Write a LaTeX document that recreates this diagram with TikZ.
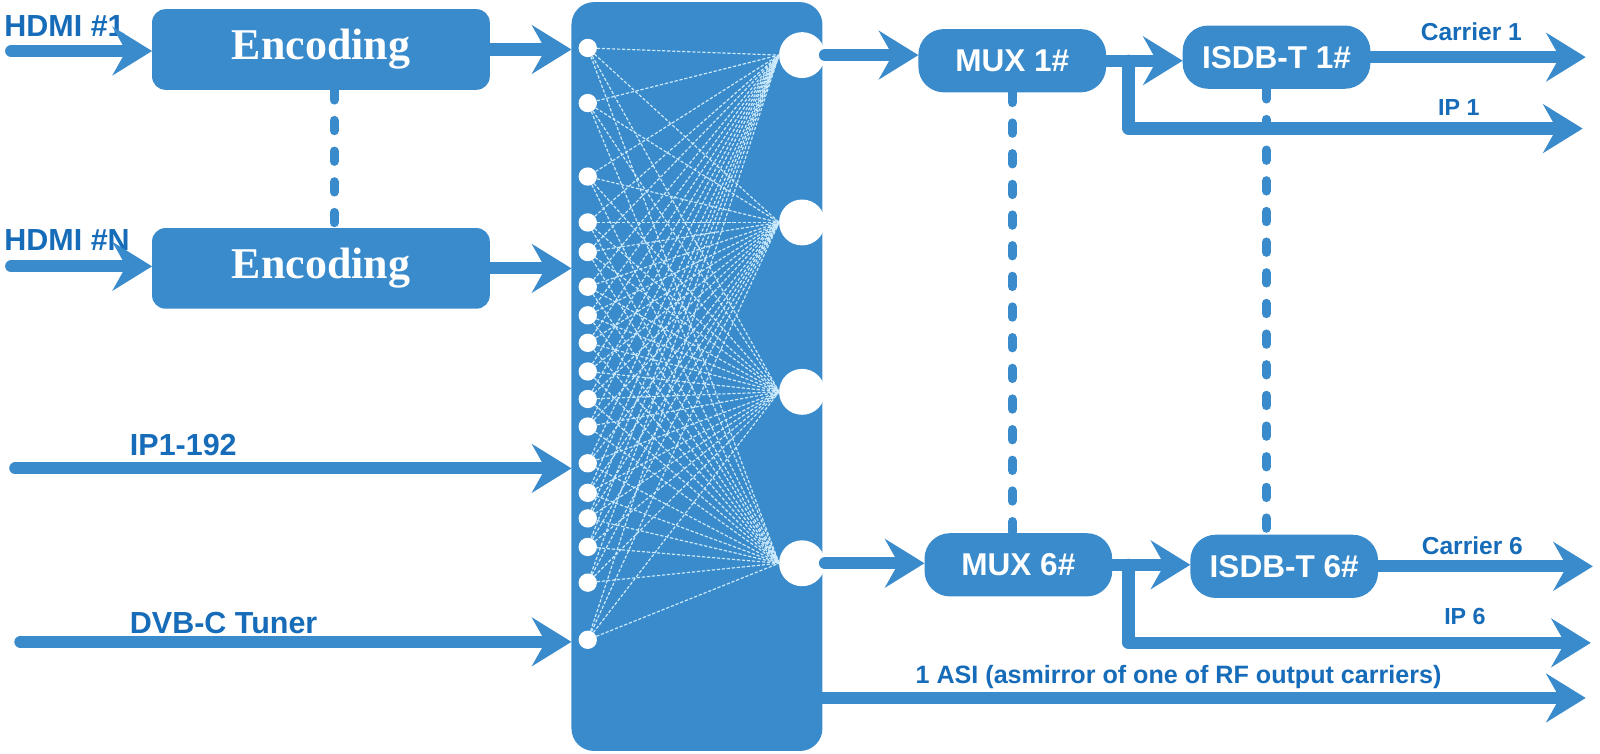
\documentclass[tikz,border=0pt]{standalone}
\usepackage{fontspec}
\setmainfont{Liberation Serif}
\setsansfont{Liberation Sans}
\usetikzlibrary{arrows.meta,calc}
\definecolor{boxblue}{RGB}{58,139,204}
\definecolor{textblue}{RGB}{22,108,184}
\definecolor{meshblue}{RGB}{205,235,252}

\begin{document}
\begin{tikzpicture}
    [   x=0.02cm, y=-0.02cm,
        box/.style={fill=boxblue,inner sep=0pt,outer sep=0pt,rounded corners=#1},
        enc/.style={box=0.26cm,minimum width=6.62cm,minimum height=1.58cm,text=white,font=\bfseries\fontsize{24.5}{24.5}\selectfont},
        pill/.style={box=0.5cm,minimum width=3.68cm,minimum height=1.24cm,text=white,font=\sffamily\bfseries\fontsize{17.6}{17.6}\selectfont},
        port/.style={circle,fill=white,inner sep=0pt,outer sep=0pt,minimum size=#1},
        lbl/.style={anchor=base west,inner sep=0pt,text=textblue,font=\sffamily\bfseries\fontsize{#1}{#1}\selectfont},
        flow/.style={draw=boxblue,line width=6.8pt,line cap=round,line join=round},
        arr/.style={flow,-{Stealth[length=22pt,width=27pt,inset=7.5pt]}},
        link/.style={draw=meshblue,line width=0.65pt,dash pattern=on 1.8pt off 1pt},
        dots/.style={draw=boxblue,line width=5.1pt,line cap=round,dash pattern=on 5.7pt off 11.4pt},
    ]
        \useasboundingbox (0,0) rectangle (1568,738);

        % draw the boxes
        \node[enc] (enc1) at (314.5,48.5) {Encoding};
        \node[enc] (enc2) at (314.5,263) {Encoding};
        \node[box=0.44cm,minimum width=4.92cm,minimum height=14.68cm] (mat) at (683,369) {};
        \node[pill] (mux1) at (992,59.5) {MUX 1\#};
        \node[pill] (isdb1) at (1251,56) {ISDB-T 1\#};
        \node[pill] (mux6) at (998,553.5) {MUX 6\#};
        \node[pill] (isdb6) at (1258.5,555) {ISDB-T 6\#};

        % draw the ports of the matrix
        \foreach \y [count=\i] in {47,101,173,218,247,281,309,336,364,391,418,454,483,508,536,571,627}
            \node[port=0.36cm] (s\i) at (576,\y) {};
        \foreach \y [count=\i] in {54,218,384,552}
            \node[port=0.9cm] (b\i) at (786,\y) {};
        \foreach \i in {1,...,17}
            \foreach \j in {1,...,4}
                \draw[link] (s\i) -- (b\j.west);

        % draw the labels
        \node[lbl=17] (hdmi1) at (4,36) {HDMI \#1};
        \node[lbl=17] (hdmin) at (4,245) {HDMI \#N};
        \node[lbl=17] (iplbl) at (127,446) {IP1-192};
        \node[lbl=17] (dvbc) at (127,621) {DVB-C Tuner};
        \node[lbl=13.7] (car1) at (1392,40) {Carrier 1};
        \node[lbl=13] (ipone) at (1409,113) {IP 1};
        \node[lbl=13.7] (car6) at (1393,543) {Carrier 6};
        \node[lbl=13] (ipsix) at (1415,612) {IP 6};
        \node[lbl=14] (asi) at (897,670) {1 ASI (asmirror of one of RF output carriers)};

        % free ends of the lines
        \coordinate (in1) at (11,50);
        \coordinate (inN) at (11,261);
        \coordinate (inip) at (15,459);
        \coordinate (indvb) at (20,629);
        \coordinate (out1) at (1554,56);
        \coordinate (outip1) at (1551,126);
        \coordinate (out6) at (1561,555);
        \coordinate (outip6) at (1559,630);
        \coordinate (outasi) at (1554,684);
        \coordinate (br1) at (1106,59.5);
        \coordinate (br6) at (1106,553.5);
        \coordinate (d1) at ($(enc1.south)+(13,0)$);
        \coordinate (d3) at ($(isdb1.south)+(-10,0)$);

        % draw the lines
        \draw[arr] (in1) -- (in1 -| enc1.west);
        \draw[arr] (inN) -- (inN -| enc2.west);
        \draw[arr] (enc1.east) -- (enc1.east -| mat.west);
        \draw[arr] (enc2.east) -- (enc2.east -| mat.west);
        \draw[arr] (inip) -- (inip -| mat.west);
        \draw[arr] (indvb) -- (indvb -| mat.west);
        \draw[arr] (b1.east) -- (b1.east -| mux1.west);
        \draw[arr] (mux1.east) -- (mux1.east -| isdb1.west);
        \draw[arr] (isdb1.east) -- (out1);
        \draw[arr] (br1) |- (outip1);
        \draw[arr] (b4.east) -- (b4.east -| mux6.west);
        \draw[arr] (mux6.east) -- (mux6.east -| isdb6.west);
        \draw[arr] (isdb6.east) -- (out6);
        \draw[arr] (br6) |- (outip6);
        \draw[arr] (mat.east |- outasi) -- (outasi);

        % draw the dotted links
        \draw[dots] (d1) -- (d1 |- enc2.north);
        \draw[dots] (mux1.south) -- (mux1.south |- mux6.north);
        \draw[dots] (d3) -- (d3 |- isdb6.north);
    \end{tikzpicture}
\end{document}
